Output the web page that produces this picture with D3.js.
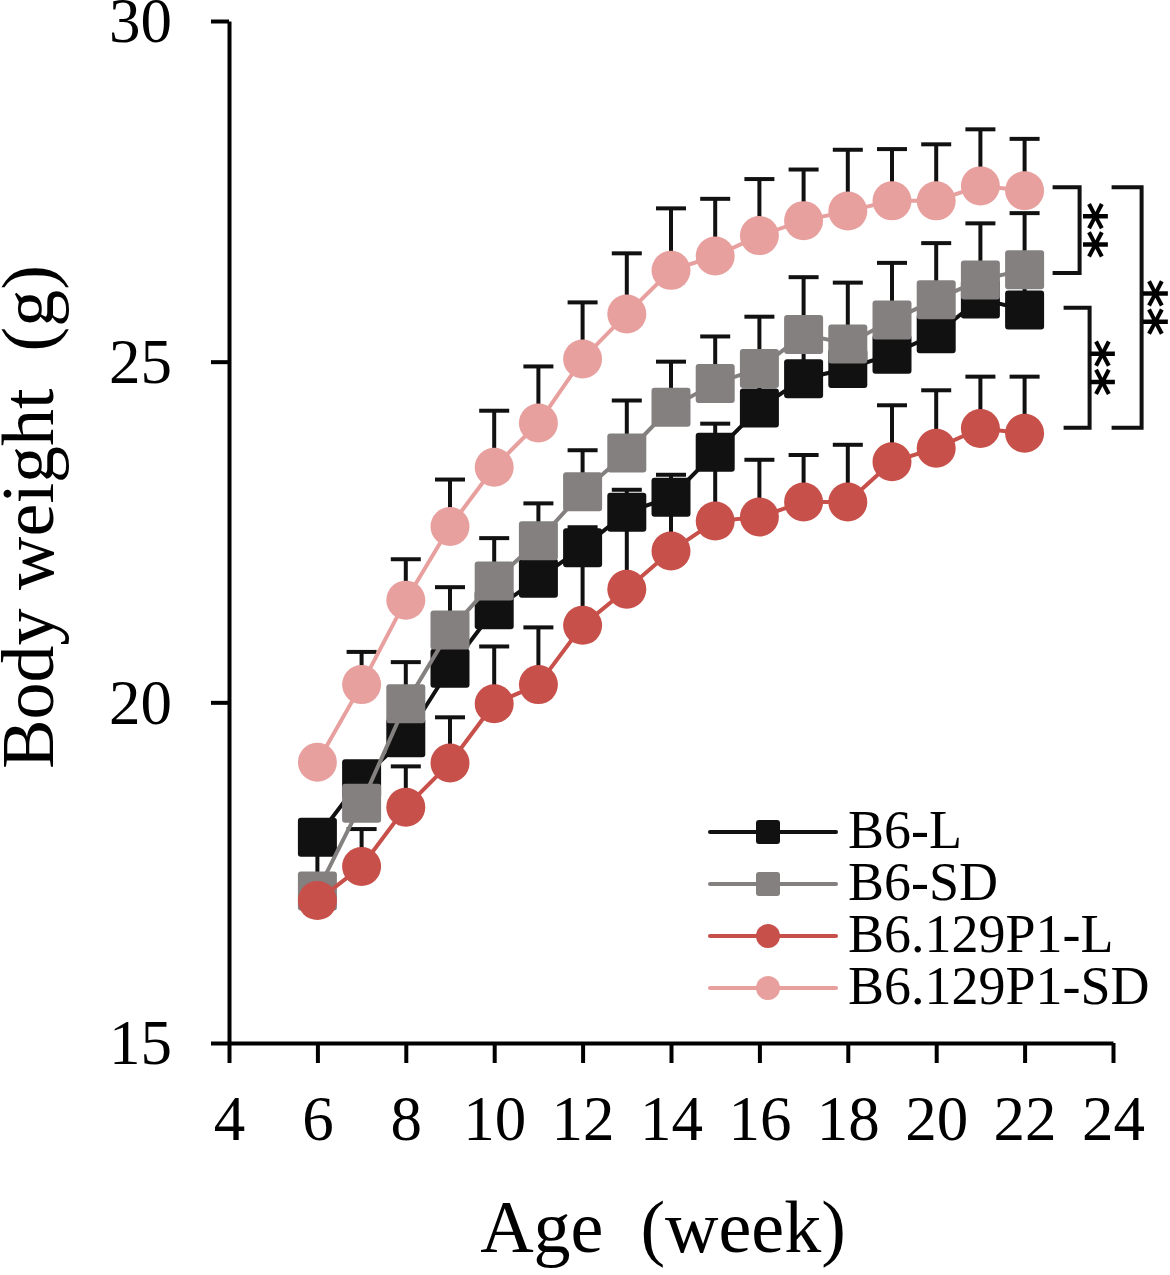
<!DOCTYPE html>
<html>
<head>
<meta charset="utf-8">
<script src="https://cdn.jsdelivr.net/npm/d3@7"></script>
<style>
  body { margin: 0; background: #fff; }
  svg text { font-family: "Liberation Serif", "Times New Roman", serif; fill: #000; }
</style>
</head>
<body>
<div id="chart"></div>
<script>
// data (mean, and upper SD bar)
const weeks = [6, 7, 8, 9, 10, 11, 12, 13, 14, 15, 16, 17, 18, 19, 20, 21, 22];

const b6L     = [18.02, 18.88, 19.48, 20.50, 21.36, 21.82, 22.27, 22.79, 23.01, 23.67, 24.32, 24.75, 24.90, 25.11, 25.41, 25.92, 25.76];
const b6LSd   = [0.20, 0.20, 0.50, 0.50, 0.40, 0.50, 0.30, 0.33, 0.33, 0.42, 0.50, 0.60, 0.40, 0.50, 0.50, 0.40, 0.50];

const b6SD    = [17.23, 18.52, 19.98, 21.06, 21.78, 22.37, 23.09, 23.66, 24.33, 24.68, 24.90, 25.40, 25.26, 25.61, 25.91, 26.20, 26.35];
const b6SDSd  = [0.60, 0.50, 0.61, 0.63, 0.63, 0.55, 0.61, 0.77, 0.67, 0.69, 0.76, 0.84, 0.90, 0.84, 0.83, 0.83, 0.83];

const p1L     = [17.09, 17.59, 18.46, 19.11, 19.98, 20.26, 21.13, 21.66, 22.22, 22.66, 22.72, 22.94, 22.94, 23.53, 23.73, 24.02, 23.95];
const p1LSd   = [0.35, 0.55, 0.60, 0.67, 0.84, 0.84, 0.95, 0.90, 0.90, 0.90, 0.84, 0.69, 0.84, 0.83, 0.85, 0.76, 0.83];

const p1SD    = [19.12, 20.26, 21.50, 22.58, 23.45, 24.10, 25.04, 25.70, 26.34, 26.55, 26.85, 27.07, 27.21, 27.36, 27.36, 27.58, 27.51];
const p1SDSd  = [0.10, 0.48, 0.60, 0.69, 0.83, 0.83, 0.83, 0.89, 0.91, 0.84, 0.83, 0.75, 0.90, 0.76, 0.83, 0.83, 0.76];

const seriesNames = ["B6-L", "B6-SD", "B6.129P1-L", "B6.129P1-SD"];
const xTicks = [4, 6, 8, 10, 12, 14, 16, 18, 20, 22, 24];
const yTicks = [15, 20, 25, 30];

// significance brackets at week 22: [top value, bottom value]
const bracketTop    = [27.56, 25.79, 27.56];
const bracketBottom = [26.30, 24.03, 24.03];
const bracketLabel  = ["**", "**", "**"];

const series = [
  { name: seriesNames[0], mean: b6L,  sd: b6LSd,  color: "#111111", shape: "square" },
  { name: seriesNames[1], mean: b6SD, sd: b6SDSd, color: "#848080", shape: "square" },
  { name: seriesNames[2], mean: p1L,  sd: p1LSd,  color: "#c8504a", shape: "circle" },
  { name: seriesNames[3], mean: p1SD, sd: p1SDSd, color: "#e8a09f", shape: "circle" }
];

const W = 1170, H = 1275;
const svg = d3.select("#chart").append("svg")
  .attr("width", W)
  .attr("height", H);

const x = d3.scaleLinear().domain([4, 24]).range([229, 1113]);
const y = d3.scaleLinear().domain([15, 30]).range([1043, 21]);

// axes
const xAxis = svg.append("g")
  .attr("transform", `translate(0,${y(15)})`)
  .call(d3.axisBottom(x).tickValues(xTicks).tickSize(20).tickSizeOuter(0));
xAxis.selectAll("text")
  .attr("y", 97).attr("dy", 0)
  .style("font-size", "63px");

const yAxis = svg.append("g")
  .attr("transform", `translate(${x(4)},0)`)
  .call(d3.axisLeft(y).tickValues(yTicks).tickSize(18).tickSizeOuter(0).tickPadding(39));
yAxis.selectAll("text")
  .attr("dy", "0.33em")
  .style("font-size", "63px");

svg.selectAll(".domain, .tick line")
  .attr("stroke", "#000")
  .attr("stroke-width", 4);

// axis titles
svg.append("text")
  .attr("x", 663)
  .attr("y", 1252)
  .attr("text-anchor", "middle")
  .style("font-size", "74px")
  .style("white-space", "pre")
  .text("Age  (week)");

svg.append("text")
  .attr("transform", "translate(53,517) rotate(-90)")
  .attr("text-anchor", "middle")
  .style("font-size", "74px")
  .style("white-space", "pre")
  .text("Body weight  (g)");

// error bars (upper only), drawn under all markers
const capW = 15;
series.forEach(s => {
  const g = svg.append("g").attr("stroke", "#111").attr("stroke-width", 4);
  weeks.forEach((w, i) => {
    const top = y(s.mean[i] + s.sd[i]);
    g.append("line")
      .attr("x1", x(w)).attr("x2", x(w))
      .attr("y1", y(s.mean[i])).attr("y2", top);
    g.append("line")
      .attr("x1", x(w) - capW).attr("x2", x(w) + capW)
      .attr("y1", top).attr("y2", top);
  });
});

// lines and markers
const line = d3.line()
  .x((d, i) => x(weeks[i]))
  .y(d => y(d));

function drawMarker(g, shape, cx, cy, size, color) {
  if (shape === "square") {
    g.append("rect")
      .attr("x", cx - size / 2).attr("y", cy - size / 2)
      .attr("width", size).attr("height", size)
      .attr("rx", 3)
      .attr("fill", color);
  } else {
    g.append("circle")
      .attr("cx", cx).attr("cy", cy)
      .attr("r", size / 2)
      .attr("fill", color);
  }
}

series.forEach(s => {
  const g = svg.append("g");
  g.append("path")
    .datum(s.mean)
    .attr("d", line)
    .attr("fill", "none")
    .attr("stroke", s.color)
    .attr("stroke-width", 4);
  s.mean.forEach((v, i) => drawMarker(g, s.shape, x(weeks[i]), y(v), 39, s.color));
});

// significance brackets
const x22 = x(weeks[weeks.length - 1]);
const bracketPos = [
  { x0: x22 + 28, x1: x22 + 55, tx: x22 + 74 },
  { x0: x22 + 39, x1: x22 + 65, tx: x22 + 81 },
  { x0: x22 + 87, x1: x22 + 117, tx: x22 + 134 }
];
bracketTop.forEach((t, i) => {
  const p = bracketPos[i];
  const yt = y(t), yb = y(bracketBottom[i]);
  svg.append("path")
    .attr("d", `M${p.x0},${yt}H${p.x1}V${yb}H${p.x0}`)
    .attr("fill", "none")
    .attr("stroke", "#111")
    .attr("stroke-width", 4);
  svg.append("text")
    .attr("transform", `translate(${p.tx},${(yt + yb) / 2}) rotate(90)`)
    .attr("text-anchor", "middle")
    .attr("dy", "0.57em")
    .style("font-family", "'DejaVu Sans', sans-serif")
    .style("font-weight", "bold")
    .style("font-size", "54px")
    .text(bracketLabel[i]);
});

// legend
const legend = svg.append("g");
series.forEach((s, i) => {
  const ly = 832 + i * 52;
  legend.append("line")
    .attr("x1", 710).attr("x2", 836)
    .attr("y1", ly).attr("y2", ly)
    .attr("stroke", s.color)
    .attr("stroke-width", 4)
    .attr("stroke-linecap", "round");
  drawMarker(legend, s.shape, 768, ly, 24, s.color);
  legend.append("text")
    .attr("x", 848)
    .attr("y", ly + 16)
    .style("font-size", "54px")
    .text(s.name);
});
</script>
</body>
</html>
